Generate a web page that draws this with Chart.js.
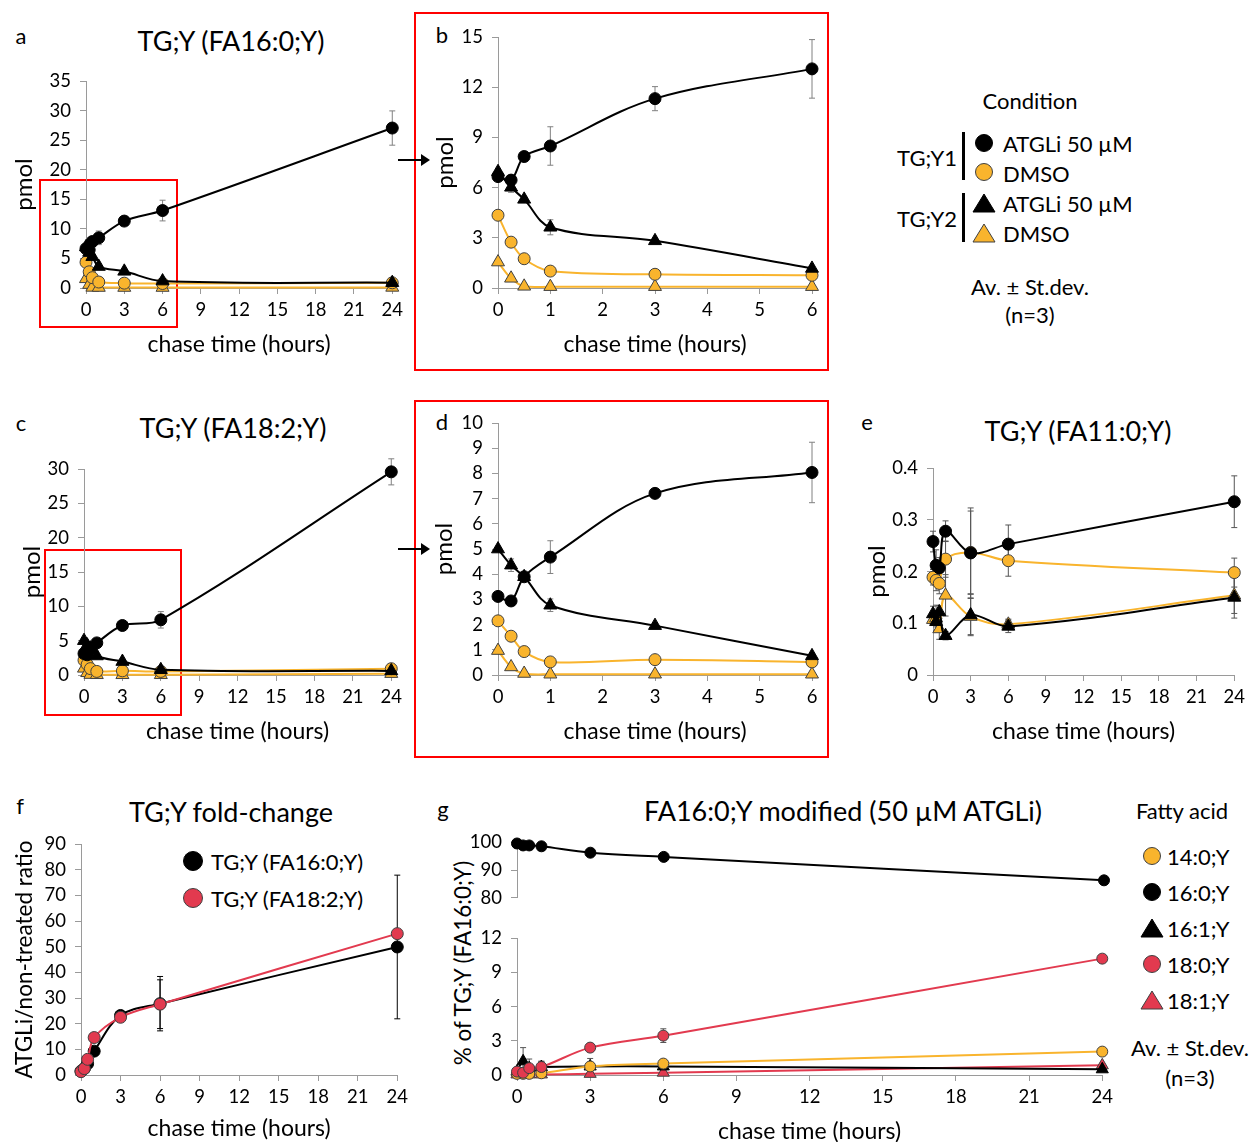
<!DOCTYPE html>
<html>
<head>
<meta charset="utf-8">
<script src="https://cdn.jsdelivr.net/npm/chart.js@4.4.0/dist/chart.umd.min.js"></script>
<style>
  body { margin: 0; width: 1249px; height: 1142px; background: #fff; position: relative; overflow: hidden;
         font-family: Lato, sans-serif; color: #000; }
  canvas { position: absolute; }
  .t { position: absolute; transform: translate(-50%, -50%); white-space: nowrap; }
  .l { position: absolute; transform: translateY(-50%); white-space: nowrap; }
  .title { font-size: 27px; }
  .letter { font-size: 22px; }
  .leg { font-size: 22px; }
  .rot { position: absolute; transform: translate(-50%, -50%) rotate(-90deg); white-space: nowrap; font-size: 22.5px; }
  .box { position: absolute; border: 2px solid #ff0000; box-sizing: border-box; }
  .mk { position: absolute; transform: translate(-50%, -50%); }
  .bar { position: absolute; width: 3px; background: #000; }
  .arrow { position: absolute; height: 2px; background: #000; }
  .arrow::after { content: ''; position: absolute; right: -2px; top: -5px; border-left: 9px solid #000;
                  border-top: 6px solid transparent; border-bottom: 6px solid transparent; }
</style>
</head>
<body>

<!-- panel letters and titles -->
<div class="t letter" style="left:21px;top:35px">a</div>
<div class="t title" style="left:231px;top:40px">TG;Y (FA16:0;Y)</div>
<div class="t letter" style="left:442px;top:34px">b</div>
<div class="t letter" style="left:21px;top:422px">c</div>
<div class="t title" style="left:233px;top:427px">TG;Y (FA18:2;Y)</div>
<div class="t letter" style="left:442px;top:421px">d</div>
<div class="t letter" style="left:867px;top:421px">e</div>
<div class="t title" style="left:1078px;top:430px">TG;Y (FA11:0;Y)</div>
<div class="t letter" style="left:20px;top:805px">f</div>
<div class="t title" style="left:231px;top:811px">TG;Y fold-change</div>
<div class="t letter" style="left:443px;top:808px">g</div>
<div class="t title" style="left:843px;top:810px">FA16:0;Y modified (50 µM ATGLi)</div>
<div class="rot" style="left:462px;top:963px">% of TG;Y (FA16:0;Y)</div>

<!-- zoom boxes and arrows -->
<div class="box" style="left:39px;top:179px;width:139px;height:149px"></div>
<div class="box" style="left:414px;top:12px;width:415px;height:359px"></div>
<div class="box" style="left:44px;top:549px;width:138px;height:167px"></div>
<div class="box" style="left:414px;top:400px;width:415px;height:358px"></div>
<div class="arrow" style="left:398px;top:159px;width:30px"></div>
<div class="arrow" style="left:398px;top:548px;width:30px"></div>

<!-- condition legend (a-e) -->
<div class="t leg" style="left:1030px;top:100px">Condition</div>
<div class="t leg" style="left:927px;top:157px">TG;Y1</div>
<div class="t leg" style="left:927px;top:218px">TG;Y2</div>
<div class="bar" style="left:962px;top:132px;height:48px"></div>
<div class="bar" style="left:962px;top:193px;height:49px"></div>
<svg class="mk" style="left:984px;top:143px" width="20" height="20"><circle cx="10" cy="10" r="8.5" fill="#000" stroke="#000"/></svg>
<svg class="mk" style="left:984px;top:172px" width="20" height="20"><circle cx="10" cy="10" r="8.5" fill="#F9B42D" stroke="#404040"/></svg>
<svg class="mk" style="left:984px;top:203px" width="24" height="20"><polygon points="12,1 23,19 1,19" fill="#000" stroke="#000"/></svg>
<svg class="mk" style="left:984px;top:233px" width="24" height="20"><polygon points="12,1 23,19 1,19" fill="#F9B42D" stroke="#404040"/></svg>
<div class="l leg" style="left:1003px;top:143px">ATGLi 50 µM</div>
<div class="l leg" style="left:1003px;top:173px">DMSO</div>
<div class="l leg" style="left:1003px;top:203px">ATGLi 50 µM</div>
<div class="l leg" style="left:1003px;top:233px">DMSO</div>
<div class="t leg" style="left:1030px;top:286px">Av. ± St.dev.</div>
<div class="t leg" style="left:1030px;top:314px">(n=3)</div>

<!-- fold-change legend (f) -->
<svg class="mk" style="left:193px;top:861px" width="22" height="22"><circle cx="11" cy="11" r="9.5" fill="#000" stroke="#000"/></svg>
<svg class="mk" style="left:193px;top:898px" width="22" height="22"><circle cx="11" cy="11" r="9.5" fill="#E23A4F" stroke="#404040"/></svg>
<div class="l leg" style="left:211px;top:861px">TG;Y (FA16:0;Y)</div>
<div class="l leg" style="left:211px;top:898px">TG;Y (FA18:2;Y)</div>

<!-- fatty acid legend (g) -->
<div class="t leg" style="left:1182px;top:810px">Fatty acid</div>
<svg class="mk" style="left:1152px;top:856px" width="20" height="20"><circle cx="10" cy="10" r="8.5" fill="#F9B42D" stroke="#404040"/></svg>
<svg class="mk" style="left:1152px;top:892px" width="20" height="20"><circle cx="10" cy="10" r="8.5" fill="#000" stroke="#000"/></svg>
<svg class="mk" style="left:1152px;top:928px" width="24" height="20"><polygon points="12,1 23,19 1,19" fill="#000" stroke="#000"/></svg>
<svg class="mk" style="left:1152px;top:964px" width="20" height="20"><circle cx="10" cy="10" r="8.5" fill="#E23A4F" stroke="#404040"/></svg>
<svg class="mk" style="left:1152px;top:1000px" width="24" height="20"><polygon points="12,1 23,19 1,19" fill="#E23A4F" stroke="#404040"/></svg>
<div class="l leg" style="left:1167px;top:856px">14:0;Y</div>
<div class="l leg" style="left:1167px;top:892px">16:0;Y</div>
<div class="l leg" style="left:1167px;top:928px">16:1;Y</div>
<div class="l leg" style="left:1167px;top:964px">18:0;Y</div>
<div class="l leg" style="left:1167px;top:1000px">18:1;Y</div>
<div class="t leg" style="left:1190px;top:1047px">Av. ± St.dev.</div>
<div class="t leg" style="left:1190px;top:1077px">(n=3)</div>

<canvas id="chartA"></canvas>
<canvas id="chartB"></canvas>
<canvas id="chartC"></canvas>
<canvas id="chartD"></canvas>
<canvas id="chartE"></canvas>
<canvas id="chartF"></canvas>
<canvas id="chartGTop"></canvas>
<canvas id="chartGBottom"></canvas>

<script>
Chart.defaults.font.family = 'Lato, sans-serif';
Chart.defaults.color = '#000';

// chase time points (hours)
const hours = [0, 0.25, 0.5, 1, 3, 6, 24];

// tick labels
const ticks24 = [0, 3, 6, 9, 12, 15, 18, 21, 24];
const ticks6 = [0, 1, 2, 3, 4, 5, 6];
const ticksA = [0, 5, 10, 15, 20, 25, 30, 35];
const ticksB = [0, 3, 6, 9, 12, 15];
const ticksC = [0, 5, 10, 15, 20, 25, 30];
const ticksD = [0, 1, 2, 3, 4, 5, 6, 7, 8, 9, 10];
const ticksE = [0, 0.1, 0.2, 0.3, 0.4];
const ticksF = [0, 10, 20, 30, 40, 50, 60, 70, 80, 90];
const ticksGTop = [80, 90, 100];
const ticksGBottom = [0, 3, 6, 9, 12];

// TG;Y (FA16:0;Y), pmol
const fa160Y1Atgli = [6.66, 6.45, 7.86, 8.49, 11.32, 13.1, 27.06];
const fa160Y1AtgliSd = [0.2, 0.25, 0.3, 1.15, 0.72, 1.75, 2.9];
const fa160Y1Dmso = [4.35, 2.74, 1.75, 1.01, 0.82, 0.76, 0.88];
const fa160Y1DmsoSd = [0.1, 0.1, 0.05, 0.1, 0.05, 0.05, 0.1];
const fa160Y2Atgli = [6.95, 6.02, 5.3, 3.63, 2.82, 1.17, 0.9];
const fa160Y2AtgliSd = [0.2, 0.3, 0.15, 0.45, 0.1, 0.1, 0.1];
const fa160Y2Dmso = [1.55, 0.58, 0.1, 0.08, 0.08, 0.08, 0.1];
const fa160Y2DmsoSd = [0.1, 0.05, 0.02, 0.02, 0.02, 0.02, 0.02];

// TG;Y (FA18:2;Y), pmol
const fa182Y1Atgli = [3.12, 2.94, 3.9, 4.68, 7.21, 8.04, 29.6];
const fa182Y1AtgliSd = [0.1, 0.1, 0.15, 0.65, 0.2, 1.2, 1.9];
const fa182Y1Dmso = [2.15, 1.54, 0.93, 0.52, 0.61, 0.52, 0.92];
const fa182Y1DmsoSd = [0.1, 0.1, 0.05, 0.05, 0.05, 0.05, 0.1];
const fa182Y2Atgli = [5.0, 4.36, 3.9, 2.77, 1.96, 0.76, 0.6];
const fa182Y2AtgliSd = [0.1, 0.25, 0.1, 0.25, 0.1, 0.05, 0.05];
const fa182Y2Dmso = [0.97, 0.32, 0.06, 0.03, 0.03, 0.03, 0.2];
const fa182Y2DmsoSd = [0.05, 0.05, 0.02, 0.02, 0.02, 0.02, 0.02];

// TG;Y (FA11:0;Y), pmol
const fa110Y1Atgli = [0.258, 0.212, 0.207, 0.278, 0.236, 0.253, 0.335];
const fa110Y1AtgliSd = [0.02, 0.03, 0.02, 0.02, 0.087, 0.037, 0.05];
const fa110Y1Dmso = [0.189, 0.183, 0.177, 0.224, 0.237, 0.221, 0.198];
const fa110Y1DmsoSd = [0.015, 0.02, 0.02, 0.035, 0.08, 0.03, 0.028];
const fa110Y2Atgli = [0.118, 0.103, 0.122, 0.076, 0.116, 0.094, 0.150];
const fa110Y2AtgliSd = [0.015, 0.01, 0.012, 0.008, 0.04, 0.012, 0.04];
const fa110Y2Dmso = [0.107, 0.110, 0.089, 0.154, 0.113, 0.098, 0.154];
const fa110Y2DmsoSd = [0.01, 0.025, 0.02, 0.04, 0.035, 0.01, 0.035];

// fold change ATGLi / non-treated
const fold160 = [1.5, 2.5, 4.4, 9.3, 23.2, 27.8, 49.9];
const fold160Sd = [0.3, 0.5, 0.8, 1.0, 1.5, 10.6, 28];
const fold182 = [1.3, 2.5, 6.1, 14.6, 22.5, 27.6, 55.1];
const fold182Sd = [0.3, 0.5, 0.8, 1.0, 1.0, 9.5, 0];

// % of TG;Y (FA16:0;Y), 50 uM ATGLi
const mod140 = [0.1, 0.1, 0.1, 0.15, 0.75, 1.0, 2.05];
const mod140Sd = [0, 0, 0, 0, 0.1, 0.15, 0];
const mod160 = [99.5, 98.8, 98.8, 98.5, 96.2, 94.7, 86.3];
const mod161 = [0.3, 1.2, 0.6, 0.7, 0.75, 0.75, 0.5];
const mod161Sd = [0.2, 1.2, 0.8, 0.5, 0.7, 0.2, 0.1];
const mod180 = [0.3, 0.2, 0.6, 0.7, 2.4, 3.45, 10.2];
const mod180Sd = [0.1, 0.1, 0.2, 0.5, 0.2, 0.6, 0.2];
const mod181 = [0.05, 0.05, 0.05, 0.05, 0.1, 0.2, 0.85];

const BLACK = '#000000';
const GOLD = '#F9B42D';
const RED = '#E23A4F';
const EDGE = '#404040';
const AXIS = '#9a9a9a';

// error bars drawn from dataset.errors through the y scale
const errorBars = {
  id: 'errorBars',
  beforeDatasetsDraw(chart, args, opts) {
    const ctx = chart.ctx;
    chart.data.datasets.forEach((ds, i) => {
      if (!ds.errors) return;
      const meta = chart.getDatasetMeta(i);
      const ys = chart.scales[meta.yAxisID];
      ctx.save();
      ctx.strokeStyle = opts.color || '#808080';
      ctx.lineWidth = 1;
      meta.data.forEach((pt, j) => {
        const e = ds.errors[j];
        if (!e) return;
        const v = ds.data[j].y;
        const top = ys.getPixelForValue(v + e);
        const bot = ys.getPixelForValue(Math.max(v - e, ys.min));
        ctx.beginPath();
        ctx.moveTo(pt.x, top); ctx.lineTo(pt.x, bot);
        ctx.moveTo(pt.x - 3, top); ctx.lineTo(pt.x + 3, top);
        ctx.moveTo(pt.x - 3, bot); ctx.lineTo(pt.x + 3, bot);
        ctx.stroke();
      });
      ctx.restore();
    });
  }
};

function series(values, sd, shape, line, fill, edge, size, n, axis) {
  const k = n || values.length;
  return {
    data: values.slice(0, k).map((y, i) => ({x: hours[i], y})),
    errors: sd ? sd.slice(0, k) : null,
    borderColor: line,
    backgroundColor: fill,
    pointBackgroundColor: fill,
    pointBorderColor: edge,
    pointBorderWidth: 1,
    pointStyle: shape,
    pointRadius: shape === 'triangle' ? size + 1.5 : size,
    borderWidth: 2,
    tension: 0.35,
    clip: false,
    yAxisID: axis || 'y'
  };
}

function conditionSets(y1a, y1aSd, y1d, y1dSd, y2a, y2aSd, y2d, y2dSd, n) {
  return [
    series(y1a, y1aSd, 'circle', BLACK, BLACK, BLACK, 6, n),
    series(y2a, y2aSd, 'triangle', BLACK, BLACK, BLACK, 6, n),
    series(y1d, y1dSd, 'circle', GOLD, GOLD, EDGE, 6, n),
    series(y2d, y2dSd, 'triangle', GOLD, GOLD, EDGE, 6, n)
  ];
}

// area = plot box in page pixels; yW/xH = fixed axis band sizes
function makeChart(id, spec, datasets) {
  const padT = 14, padR = 14, padB = spec.padB || 0;
  const a = spec.area;
  const el = document.getElementById(id);
  el.width = a.r - a.l + spec.yW + padR;
  el.height = a.b - a.t + (spec.xH || 0) + padT + padB;
  el.style.left = (a.l - spec.yW) + 'px';
  el.style.top = (a.t - padT) + 'px';
  const tickFont = {size: 18.5};
  return new Chart(el, {
    type: 'line',
    data: {datasets},
    options: {
      responsive: false,
      animation: false,
      events: [],
      layout: {padding: {top: padT, right: padR, bottom: padB, left: 0}},
      plugins: {
        legend: {display: false},
        tooltip: {enabled: false},
        errorBars: {color: spec.errColor}
      },
      scales: {
        x: {
          type: 'linear',
          display: !!spec.xH,
          min: spec.xTicks[0],
          max: spec.xTicks[spec.xTicks.length - 1],
          afterBuildTicks: s => { s.ticks = spec.xTicks.map(v => ({value: v})); },
          afterFit: s => { s.height = spec.xH || 0; },
          border: {color: AXIS, width: 1},
          grid: {drawOnChartArea: false, color: AXIS, tickLength: 6},
          ticks: {font: tickFont, padding: 5, maxRotation: 0, autoSkip: false},
          title: {display: !!spec.xH, text: 'chase time (hours)', font: {size: 23}, padding: 0}
        },
        y: {
          type: 'linear',
          min: spec.yTicks[0],
          max: spec.yTicks[spec.yTicks.length - 1],
          afterBuildTicks: s => { s.ticks = spec.yTicks.map(v => ({value: v})); },
          afterFit: s => { s.width = spec.yW; },
          border: {color: AXIS, width: 1},
          grid: {drawOnChartArea: false, color: AXIS, tickLength: 6},
          ticks: {font: tickFont, padding: 9, autoSkip: false},
          title: {display: !!spec.yTitle, text: spec.yTitle || '', font: {size: spec.yTitleSize || 24}, padding: 0}
        }
      }
    },
    plugins: [errorBars]
  });
}

makeChart('chartA', {area: {l: 86, t: 75, r: 394, b: 288}, yW: 76, xH: 70, xTicks: ticks24, yTicks: ticksA, yTitle: 'pmol', errColor: '#808080'},
  conditionSets(fa160Y1Atgli, fa160Y1AtgliSd, fa160Y1Dmso, fa160Y1DmsoSd, fa160Y2Atgli, fa160Y2AtgliSd, fa160Y2Dmso, fa160Y2DmsoSd));

makeChart('chartB', {area: {l: 498, t: 31, r: 812, b: 288}, yW: 67, xH: 70, xTicks: ticks6, yTicks: ticksB, yTitle: 'pmol', errColor: '#808080'},
  conditionSets(fa160Y1Atgli, fa160Y1AtgliSd, fa160Y1Dmso, fa160Y1DmsoSd, fa160Y2Atgli, fa160Y2AtgliSd, fa160Y2Dmso, fa160Y2DmsoSd, 6));

makeChart('chartC', {area: {l: 84, t: 463, r: 393, b: 675}, yW: 66, xH: 70, xTicks: ticks24, yTicks: ticksC, yTitle: 'pmol', errColor: '#808080'},
  conditionSets(fa182Y1Atgli, fa182Y1AtgliSd, fa182Y1Dmso, fa182Y1DmsoSd, fa182Y2Atgli, fa182Y2AtgliSd, fa182Y2Dmso, fa182Y2DmsoSd));

makeChart('chartD', {area: {l: 498, t: 417, r: 812, b: 675}, yW: 68, xH: 70, xTicks: ticks6, yTicks: ticksD, yTitle: 'pmol', errColor: '#808080'},
  conditionSets(fa182Y1Atgli, fa182Y1AtgliSd, fa182Y1Dmso, fa182Y1DmsoSd, fa182Y2Atgli, fa182Y2AtgliSd, fa182Y2Dmso, fa182Y2DmsoSd, 6));

makeChart('chartE', {area: {l: 933, t: 462, r: 1236, b: 675}, yW: 70, xH: 70, xTicks: ticks24, yTicks: ticksE, yTitle: 'pmol', errColor: '#555555'},
  conditionSets(fa110Y1Atgli, fa110Y1AtgliSd, fa110Y1Dmso, fa110Y1DmsoSd, fa110Y2Atgli, fa110Y2AtgliSd, fa110Y2Dmso, fa110Y2DmsoSd));

makeChart('chartF', {area: {l: 81, t: 838, r: 399, b: 1075}, yW: 70, xH: 67, xTicks: ticks24, yTicks: ticksF, yTitle: 'ATGLi/non-treated ratio', yTitleSize: 22.5, errColor: '#000000'}, [
  series(fold182, fold182Sd, 'circle', RED, RED, EDGE, 6),
  series(fold160, fold160Sd, 'circle', BLACK, BLACK, BLACK, 6)
]);

makeChart('chartGTop', {area: {l: 517, t: 836, r: 1104, b: 906}, yW: 68, padB: 12, xTicks: ticks24, yTicks: ticksGTop, errColor: '#555555'}, [
  series(mod160, null, 'circle', BLACK, BLACK, BLACK, 5.5)
]);

makeChart('chartGBottom', {area: {l: 517, t: 932, r: 1104, b: 1075}, yW: 68, xH: 70, xTicks: ticks24, yTicks: ticksGBottom, errColor: '#555555'}, [
  series(mod180, mod180Sd, 'circle', RED, RED, EDGE, 5.5),
  series(mod140, mod140Sd, 'circle', GOLD, GOLD, EDGE, 5.5),
  series(mod161, mod161Sd, 'triangle', BLACK, BLACK, BLACK, 5.5),
  series(mod181, null, 'triangle', RED, RED, EDGE, 5.5)
]);
</script>
</body>
</html>
